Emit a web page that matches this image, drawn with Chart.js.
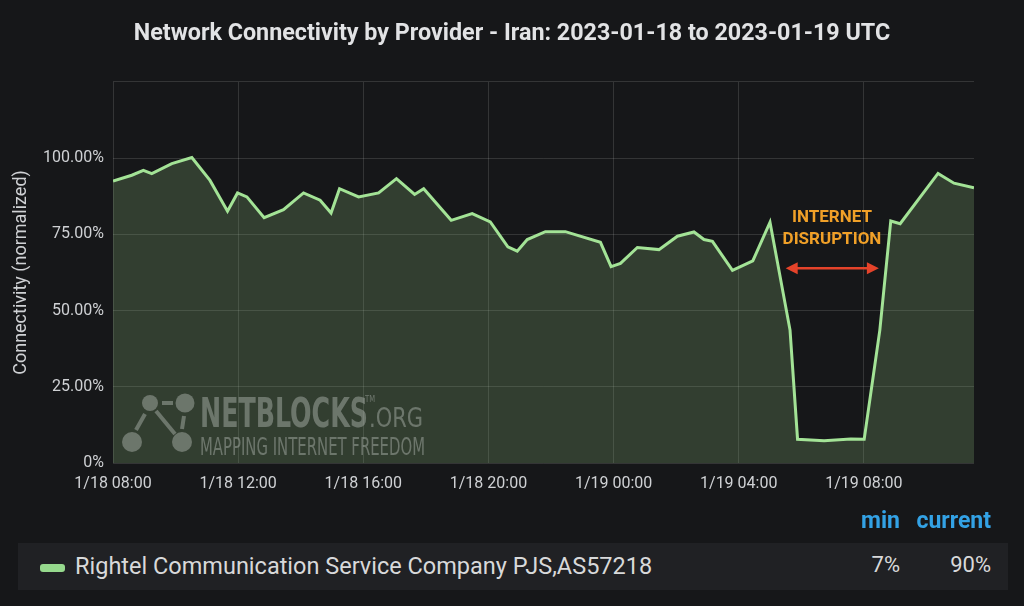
<!DOCTYPE html>
<html>
<head>
<meta charset="utf-8">
<script src="https://cdn.jsdelivr.net/npm/chart.js@4/dist/chart.umd.min.js"></script>
<style>
  html,body{margin:0;padding:0;background:#161719;}
  #wrap{position:relative;width:1024px;height:606px;overflow:hidden;background:#161719;font-family:Roboto,"Noto Sans",sans-serif;}
  canvas{position:absolute;left:0;top:0;}
  .hdr{position:absolute;top:507px;color:#33a2e5;font-weight:bold;font-size:23px;text-align:right;}
  #legbox{position:absolute;left:18px;top:543px;width:990px;height:47px;background:#202124;}
  #sw{position:absolute;left:40px;top:564px;width:25px;height:8px;border-radius:3px;background:#96d98d;}
  #lname{position:absolute;left:75px;top:552px;font-size:23.5px;color:#d8d9da;white-space:nowrap;}
  .val{position:absolute;top:552px;font-size:22px;color:#d8d9da;text-align:right;}
</style>
</head>
<body>
<div id="wrap">
  <canvas id="c" width="1024" height="606"></canvas>
  <div class="hdr" style="left:820px;width:80px;">min</div>
  <div class="hdr" style="left:900px;width:91px;">current</div>
  <div id="legbox"></div>
  <div id="sw"></div>
  <div id="lname">Rightel Communication Service Company PJS,AS57218</div>
  <div class="val" style="left:820px;width:80px;">7%</div>
  <div class="val" style="left:900px;width:91px;">90%</div>
</div>
<script>
// Hours since 2023-01-18 08:00 UTC
const hours = [0, 0.6, 0.97, 1.24, 1.88, 2.52, 3.1, 3.66, 3.98, 4.28, 4.83, 5.45, 6.09, 6.62, 6.97, 7.24, 7.85, 8.49, 9.06, 9.64, 9.93, 10.81, 11.48, 12.06, 12.62, 12.92, 13.24, 13.82, 14.46, 15.58, 15.92, 16.22, 16.76, 17.45, 18.04, 18.57, 18.89, 19.16, 19.8, 20.45, 21.0, 21.64, 21.88, 22.73, 23.58, 24.01, 24.51, 24.86, 25.16, 26.37, 26.88, 27.52];
const connectivity = [92.5, 94.4, 96.0, 94.9, 98.2, 100.2, 92.7, 82.6, 88.6, 87.3, 80.5, 83.1, 88.6, 86.2, 82.0, 90.0, 87.3, 88.6, 93.3, 88.1, 90.0, 79.6, 81.8, 79.1, 70.9, 69.5, 73.3, 75.9, 75.9, 72.4, 64.4, 65.5, 70.7, 70.0, 74.4, 75.8, 73.3, 72.7, 63.2, 66.3, 79.0, 43.6, 7.8, 7.3, 7.9, 7.8, 43.6, 79.4, 78.5, 95.0, 91.8, 90.3];
const xTickHours = [0, 4, 8, 12, 16, 20, 24];
const xTickLabels = ['1/18 08:00', '1/18 12:00', '1/18 16:00', '1/18 20:00', '1/19 00:00', '1/19 04:00', '1/19 08:00'];
const yTickValues = [0, 25, 50, 75, 100, 125];
const yTickLabels = ['0%', '25.00%', '50.00%', '75.00%', '100.00%', ''];
const seriesName = 'Rightel Communication Service Company PJS,AS57218';
const titleText = 'Network Connectivity by Provider - Iran: 2023-01-18 to 2023-01-19 UTC';
const annotationLines = ['INTERNET', 'DISRUPTION'];
const annotationTextAt = {x: 22.98, y: [80.3, 73.1]};
const arrowSpan = {from: 21.5, to: 24.48, y: 63.9};

const points = hours.map((h, i) => ({x: h, y: connectivity[i]}));

const overlay = {
  id: 'overlay',
  afterDatasetsDraw(chart) {
    const ctx = chart.ctx, xs = chart.scales.x, ys = chart.scales.y, ca = chart.chartArea;
    ctx.save();
    // Watermark
    const wl = ca.left, wb = ca.bottom;
    const gc = 'rgba(190,195,190,0.42)';
    ctx.fillStyle = gc; ctx.strokeStyle = gc; ctx.lineWidth = 4;
    const c1 = [wl + 37, wb - 60], c2 = [wl + 72, wb - 60], c3 = [wl + 19, wb - 21], c4 = [wl + 69, wb - 21];
    ctx.beginPath(); ctx.moveTo(c1[0] + 12, c1[1]); ctx.lineTo(c2[0] - 12, c2[1]); ctx.stroke();
    ctx.beginPath(); ctx.moveTo(c1[0] + 6, c1[1] + 8); ctx.lineTo(c4[0] - 7, c4[1] - 8); ctx.stroke();
    ctx.beginPath(); ctx.moveTo(c1[0] - 5, c1[1] + 11); ctx.lineTo(c3[0] + 4, c3[1] - 12); ctx.stroke();
    ctx.beginPath(); ctx.moveTo(c2[0] - 1, c2[1] + 13); ctx.lineTo(c4[0], c4[1] - 13); ctx.stroke();
    [[c1, 8], [c2, 9.5], [c3, 10], [c4, 10]].forEach(([c, r]) => { ctx.beginPath(); ctx.arc(c[0], c[1], r, 0, Math.PI * 2); ctx.fill(); });
    function fitText(t, x, y, w, size, weight) {
      ctx.font = weight + ' ' + size + 'px "Liberation Sans Narrow", "DejaVu Sans Condensed", Roboto, sans-serif';
      const m = ctx.measureText(t).width;
      ctx.save(); ctx.translate(x, y); ctx.scale(w / m, 1); ctx.textBaseline = 'alphabetic'; ctx.textAlign = 'left';
      ctx.fillText(t, 0, 0); ctx.restore();
    }
    fitText('NETBLOCKS', wl + 87, wb - 36, 168, 41, 'bold');
    fitText('.ORG', wl + 256, wb - 36, 54, 27, 'normal');
    fitText('TM', wl + 252, wb - 61, 10, 8, 'normal');
    fitText('MAPPING INTERNET FREEDOM', wl + 87, wb - 8, 225, 25, 'normal');
    // Annotation
    ctx.fillStyle = '#f0a028';
    ctx.font = 'bold 17px Roboto, "Noto Sans", sans-serif';
    ctx.textAlign = 'center'; ctx.textBaseline = 'middle';
    annotationLines.forEach((t, i) => ctx.fillText(t, xs.getPixelForValue(annotationTextAt.x), ys.getPixelForValue(annotationTextAt.y[i])));
    const ax1 = xs.getPixelForValue(arrowSpan.from), ax2 = xs.getPixelForValue(arrowSpan.to), ay = ys.getPixelForValue(arrowSpan.y);
    ctx.strokeStyle = '#e5432a'; ctx.fillStyle = '#e5432a'; ctx.lineWidth = 2.5;
    ctx.beginPath(); ctx.moveTo(ax1 + 8, ay); ctx.lineTo(ax2 - 8, ay); ctx.stroke();
    ctx.beginPath(); ctx.moveTo(ax1, ay); ctx.lineTo(ax1 + 12, ay - 6); ctx.lineTo(ax1 + 12, ay + 6); ctx.closePath(); ctx.fill();
    ctx.beginPath(); ctx.moveTo(ax2, ay); ctx.lineTo(ax2 - 12, ay - 6); ctx.lineTo(ax2 - 12, ay + 6); ctx.closePath(); ctx.fill();
    ctx.restore();
  }
};

Chart.defaults.font.family = 'Roboto, "Noto Sans", sans-serif';
new Chart(document.getElementById('c'), {
  type: 'line',
  data: {
    datasets: [{
      label: seriesName,
      data: points,
      yAxisID: 'y',
      borderColor: '#a3e396',
      backgroundColor: 'rgba(134,179,121,0.25)',
      borderWidth: 3,
      fill: 'origin',
      pointRadius: 0,
      tension: 0
    }]
  },
  options: {
    responsive: false,
    animation: false,
    layout: {padding: {left: 0, right: 0, top: 0, bottom: 0}},
    plugins: {
      legend: {display: false},
      tooltip: {enabled: false},
      title: {
        display: true, text: titleText, color: '#e2e3e5',
        font: {size: 23.3, weight: 'bold'}, padding: {top: 20, bottom: 34}
      }
    },
    scales: {
      x: {
        type: 'linear', min: 0, max: hours[hours.length - 1],
        afterBuildTicks: s => { s.ticks = xTickHours.map(v => ({value: v})); },
        afterFit: s => { s.height = 143; },
        grid: {color: 'rgba(255,255,255,0.13)', drawTicks: false, lineWidth: 1},
        border: {display: false},
        ticks: {
          color: '#cfd1d4', font: {size: 16}, padding: 11, maxRotation: 0,
          callback: (v) => xTickLabels[xTickHours.indexOf(v)]
        }
      },
      y: {
        min: 0, max: 125,
        afterBuildTicks: s => { s.ticks = yTickValues.map(v => ({value: v})); },
        afterFit: s => { s.width = 113; },
        grid: {color: 'rgba(255,255,255,0.13)', drawTicks: false, lineWidth: 1},
        border: {display: false},
        ticks: {
          color: '#cfd1d4', font: {size: 16}, padding: 9,
          callback: (v) => yTickLabels[yTickValues.indexOf(v)]
        },
        title: {display: true, text: 'Connectivity (normalized)', color: '#cfd1d4', font: {size: 18}, padding: {top: 11, bottom: 4}}
      },
      yRight: {
        position: 'right', min: 0, max: 125,
        afterFit: s => { s.width = 50; },
        grid: {display: false, drawTicks: false},
        border: {display: false},
        ticks: {display: false}
      }
    }
  },
  plugins: [overlay]
});
</script>
</body>
</html>
